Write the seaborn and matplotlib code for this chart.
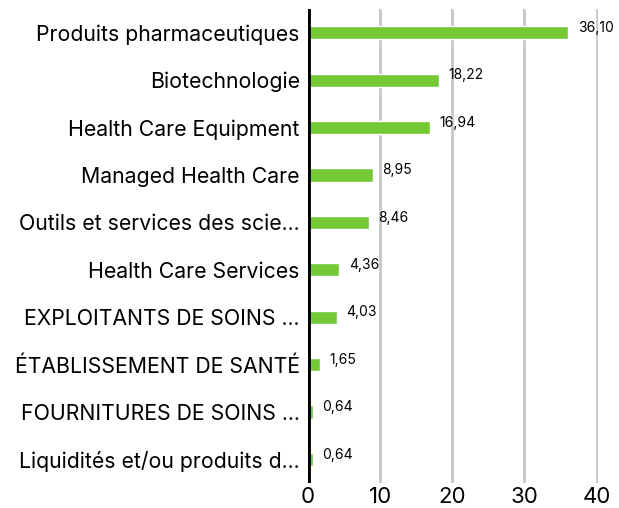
import matplotlib
matplotlib.use("Agg")
import matplotlib.pyplot as plt
import seaborn as sns
import pandas as pd

# Données du graphique
secteurs = [
    "Produits pharmaceutiques",
    "Biotechnologie",
    "Health Care Equipment",
    "Managed Health Care",
    "Outils et services des scie...",
    "Health Care Services",
    "EXPLOITANTS DE SOINS ...",
    "ÉTABLISSEMENT DE SANTÉ",
    "FOURNITURES DE SOINS ...",
    "Liquidités et/ou produits d...",
]
poids = [36.10, 18.22, 16.94, 8.95, 8.46, 4.36, 4.03, 1.65, 0.64, 0.64]
graduations = [0, 10, 20, 30, 40]

df = pd.DataFrame({"secteur": secteurs, "poids": poids})

sns.set_style("white")
plt.rcParams["font.family"] = ["Inter", "DejaVu Sans"]

fig = plt.figure(figsize=(6.19, 5.08), dpi=100)
ax = fig.add_axes([0.4976, 0.049, 0.4685, 0.933])

sns.barplot(data=df, x="poids", y="secteur", color="#74c935", width=0.28,
            saturation=1, ax=ax, zorder=3)

ax.set_xlim(0, 40.2)
ax.set_xticks(graduations)
for g in graduations[1:]:
    ax.axvline(g, color="#c8c8c8", lw=2, zorder=1)
ax.axvline(0, color="black", lw=3.5, zorder=4)

for i, v in enumerate(poids):
    ax.text(v + 1.3, i - 0.1, f"{v:.2f}".replace(".", ","), va="center",
            ha="left", fontsize=10, color="black")

for s in ax.spines.values():
    s.set_visible(False)
ax.set_xlabel("")
ax.set_ylabel("")
ax.tick_params(axis="y", labelsize=15.3, length=0, pad=6, labelcolor="black")
ax.tick_params(axis="x", labelsize=16, length=0, pad=3, labelcolor="black")

fig.savefig("out.png", dpi=100)
